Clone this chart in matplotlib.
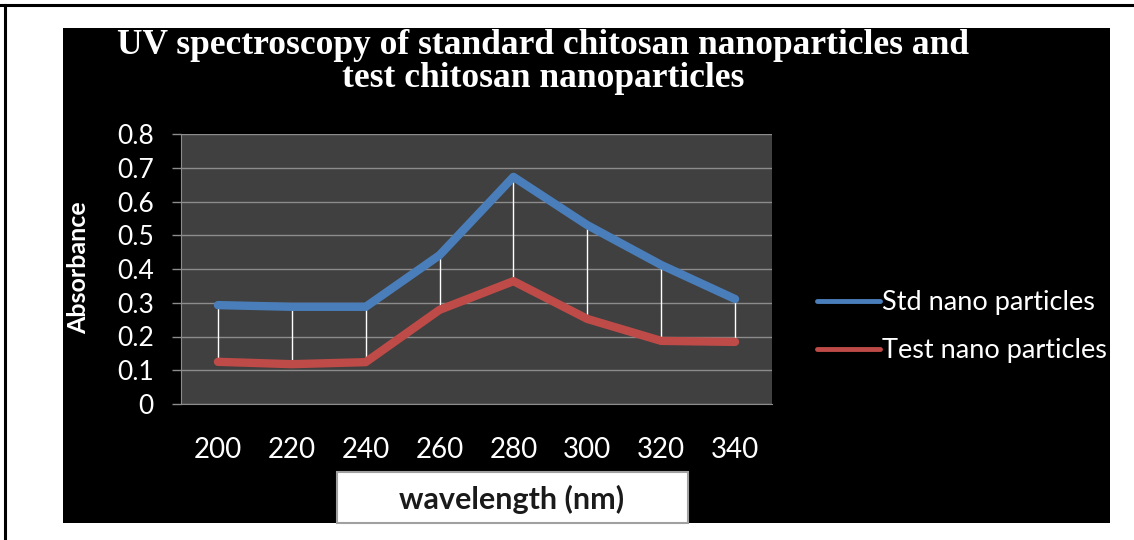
import matplotlib
matplotlib.use("Agg")
import matplotlib.pyplot as plt
from matplotlib.patches import Rectangle
from matplotlib.lines import Line2D

wavelengths = ["200", "220", "240", "260", "280", "300", "320", "340"]
std_values = [0.293, 0.288, 0.288, 0.441, 0.673, 0.530, 0.412, 0.311]
test_values = [0.125, 0.118, 0.124, 0.279, 0.364, 0.252, 0.187, 0.184]
y_ticks = [0, 0.1, 0.2, 0.3, 0.4, 0.5, 0.6, 0.7, 0.8]
y_tick_labels = ["0", "0.1", "0.2", "0.3", "0.4", "0.5", "0.6", "0.7", "0.8"]
title_text = "UV spectroscopy of standard chitosan nanoparticles and\ntest chitosan nanoparticles"
series_names = ["Std nano particles", "Test nano particles"]

SANS = "Lato"
W, H = 1134, 540
fig = plt.figure(figsize=(W / 100, H / 100), dpi=100)
fig.patch.set_facecolor("white")

def fx(px):
    return px / W

def fy(py):
    return 1 - py / H

# page border lines
fig.add_artist(Line2D([0, 1], [fy(5), fy(5)], color="black", lw=2.2, transform=fig.transFigure))
fig.add_artist(Line2D([fx(5), fx(5)], [fy(5), 0], color="black", lw=2.2, transform=fig.transFigure))

# black chart area
fig.add_artist(Rectangle((fx(63), fy(523)), fx(1110) - fx(63), fy(28) - fy(523),
                         facecolor="black", edgecolor="none", transform=fig.transFigure, zorder=0))

ax = fig.add_axes([fx(181), fy(404), fx(772) - fx(181), fy(134) - fy(404)])
ax.set_facecolor("#404040")
x = list(range(len(wavelengths)))

for i in x:
    ax.plot([i, i], [test_values[i], std_values[i]], color="white", lw=1.0, zorder=2)
ax.plot(x, std_values, color="#4A7EBB", lw=6, solid_capstyle="round", solid_joinstyle="round", zorder=3,
        label=series_names[0])
ax.plot(x, test_values, color="#BE4B48", lw=6, solid_capstyle="round", solid_joinstyle="round", zorder=3,
        label=series_names[1])

ax.set_xlim(-0.5, len(wavelengths) - 0.5)
ax.set_ylim(0, 0.8)
ax.set_yticks(y_ticks)
ax.set_yticklabels(y_tick_labels, fontsize=19, family=SANS, color="white")
ax.set_xticks(x)
ax.set_xticklabels(wavelengths, fontsize=20, family=SANS, color="white")
ax.grid(axis="y", color="#8C8C8C", lw=1.0)
ax.set_axisbelow(True)
for s in ["top", "right"]:
    ax.spines[s].set_visible(False)
ax.spines["left"].set_color("#8C8C8C")
ax.spines["bottom"].set_color("#8C8C8C")
ax.tick_params(axis="y", colors="#8C8C8C", labelcolor="white", length=6.5, width=1, pad=13)
ax.tick_params(axis="x", length=0, labelcolor="white", pad=24)

fig.text(fx(79), fy(268), "Absorbance", rotation=90, ha="center", va="center", color="white",
         fontsize=18, fontweight="bold", family=SANS)

# title
fig.text(fx(543), fy(62), title_text, ha="center", va="center", color="white",
         fontsize=25.5, fontweight="bold", family="Liberation Serif", linespacing=1.0)

# x label box
fig.add_artist(Rectangle((fx(337), fy(523)), fx(688) - fx(337), fy(472) - fy(523),
                         facecolor="white", edgecolor="#A0A0A0", lw=1.5, transform=fig.transFigure, zorder=1))
fig.text(fx(512), fy(499), "wavelength (nm)", ha="center", va="center", color="#1A1A1A",
         fontsize=22, fontweight="bold", family=SANS)

# legend
leg = fig.legend(loc="upper left", bbox_to_anchor=(fx(793), fy(266)), frameon=False,
                 labelcolor="white", prop={"family": SANS, "size": 19.5},
                 handlelength=2.3, handletextpad=0.08, labelspacing=0.85)
for h in leg.get_lines():
    h.set_linewidth(3.5)

fig.savefig("out.png", dpi=100, facecolor="white")
